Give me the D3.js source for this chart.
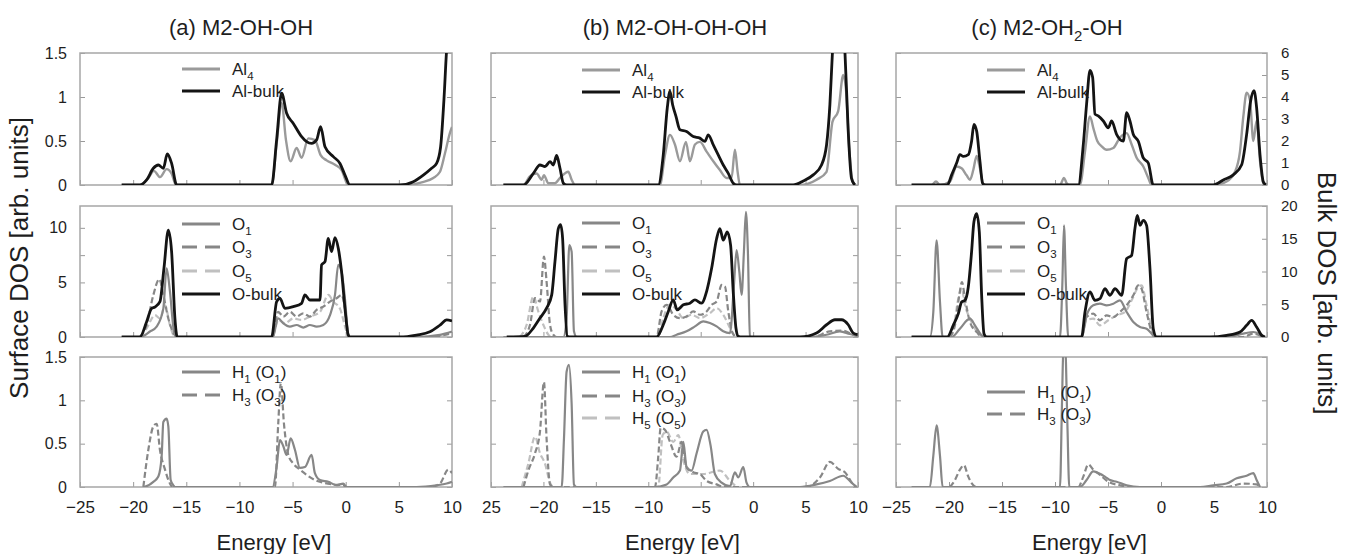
<!DOCTYPE html>
<html>
<head>
<meta charset="utf-8">
<script src="https://cdn.jsdelivr.net/npm/d3@7"></script>
<style>
  body { margin: 0; background: #fff; }
  svg text { font-family: "Liberation Sans", Arial, Helvetica, sans-serif; fill: #1e1e1e; }
</style>
</head>
<body>
<div id="chart"></div>
<script>
// ---- data: [energy eV, DOS] ----
// surface curves use the left axis, bulk curves the right (Bulk DOS) axis

// (a) M2-OH-OH
var a_Al4 = [[-21.08,0],[-19.36,0],[-18.57,0.08],[-18.04,0.16],[-17.47,0.09],[-16.85,0.18],[-16.38,0.13],[-15.97,0],[-6.97,0],[-6.5,0.47],[-6.03,0.93],[-5.62,0.51],[-5.18,0.27],[-4.62,0.42],[-4.15,0.31],[-3.52,0.53],[-2.89,0.51],[-2.36,0.34],[-1.8,0.28],[-1.01,0.23],[-0.39,0.17],[0.24,0],[6.04,0],[7.14,0.03],[8.24,0.08],[8.87,0.15],[9.34,0.36],[9.8,0.59],[10,0.66]];
var a_AlBulk = [[-21.08,0],[-19.36,0],[-18.73,0.23],[-18.1,0.76],[-17.63,0.91],[-17.16,0.76],[-16.79,1.41],[-16.38,0.98],[-15.9,0],[-6.97,0],[-6.5,2.05],[-6.03,4.17],[-5.56,3.26],[-4.93,2.8],[-4.15,2.2],[-3.68,1.97],[-3.21,1.89],[-2.74,2.05],[-2.36,2.65],[-1.95,1.74],[-1.17,1.29],[-0.54,0.98],[-0.07,0.45],[0.4,0],[5.1,0],[6.36,0.15],[7.3,0.45],[8.08,0.76],[8.55,0.98],[8.93,1.74],[9.24,3.86],[9.5,6.2],[10,8]];
var a_O1 = [[-21.08,0],[-19.36,0],[-18.42,0.5],[-17.79,0.95],[-17.16,2.6],[-16.85,6.3],[-16.54,4.2],[-16.16,0.5],[-15.9,0],[-6.88,0],[-6.35,1.7],[-5.87,1.25],[-5.25,0.95],[-4.62,1.1],[-3.99,0.86],[-3.37,1.1],[-2.74,0.95],[-2.11,1.1],[-1.48,2.0],[-1.01,3.85],[-0.7,6.6],[-0.39,6.0],[-0.07,3.5],[0.24,0.2],[0.4,0],[6.67,0],[8.87,0.2],[10,0.5]];
var a_O3 = [[-19.36,0],[-18.73,1.1],[-18.1,3.85],[-17.54,5.3],[-17.16,3.85],[-16.69,1.7],[-16.2,0.34],[-15.9,0],[-6.88,0],[-6.35,2.3],[-5.87,1.87],[-5.25,2.3],[-4.62,1.87],[-3.99,2.17],[-3.37,1.87],[-2.74,2.48],[-2.11,2.78],[-1.48,3.24],[-0.86,3.55],[-0.39,3.85],[-0.07,2.6],[0.24,0.2],[0.4,0],[7.6,0],[10,0.34]];
var a_O5 = [[-19.36,0],[-18.73,0.8],[-17.95,2.0],[-17.48,1.7],[-17.0,2.9],[-16.54,1.1],[-16.07,0],[-6.88,0],[-6.35,1.56],[-5.72,1.25],[-4.93,1.7],[-4.15,1.56],[-3.37,1.87],[-2.42,2.3],[-1.64,3.85],[-1.17,3.24],[-0.54,2.6],[0.08,0.5],[0.33,0]];
var a_OBulk = [[-21.08,0],[-19.36,0],[-18.73,2.34],[-18.26,4.38],[-17.95,4.58],[-17.48,5.39],[-17.1,10.5],[-16.69,16.3],[-16.38,13.0],[-16.07,2.85],[-15.85,0],[-6.97,0],[-6.5,5.4],[-6.19,5.9],[-5.72,4.38],[-4.93,4.63],[-4.15,5.14],[-3.84,6.41],[-3.37,5.65],[-2.42,5.65],[-2.27,11.0],[-1.95,11.5],[-1.64,15.06],[-1.33,13.03],[-1.01,15.17],[-0.7,13.54],[-0.39,9.97],[-0.07,4.38],[0.24,0.3],[0.4,0],[5.1,0],[6.67,0.3],[7.92,0.8],[8.87,1.83],[9.5,2.6],[10,2.44]];
var a_H1 = [[-19.04,0],[-18.73,0.01],[-18.1,0.06],[-17.63,0.12],[-17.32,0.35],[-17.16,0.75],[-16.85,0.79],[-16.69,0.7],[-16.47,0.08],[-16.22,0.02],[-16.07,0],[-6.88,0],[-6.5,0.23],[-6.19,0.54],[-5.87,0.47],[-5.56,0.37],[-5.18,0.56],[-4.78,0.43],[-4.31,0.22],[-3.84,0.23],[-3.21,0.37],[-2.9,0.16],[-2.42,0.08],[-1.64,0.06],[-0.86,0.02],[-0.23,0.04],[0.08,0],[6.67,0],[8.55,0.02],[9.5,0.04],[10,0.06]];
var a_H3 = [[-19.04,0],[-18.57,0.43],[-18.1,0.7],[-17.79,0.73],[-17.48,0.43],[-17.0,0.2],[-16.54,0.04],[-16.29,0],[-6.66,0],[-6.35,0.73],[-6.1,1.2],[-5.81,0.73],[-5.4,0.37],[-4.93,0.27],[-4.31,0.2],[-3.68,0.14],[-2.9,0.08],[-2.11,0.05],[-1.17,0.03],[-0.23,0.02],[0.08,0],[7.92,0],[8.87,0.04],[9.65,0.2],[10,0.16]];

// (b) M2-OH-OH-OH
var b_Al4 = [[-23.82,0],[-21.9,0],[-21.28,0.1],[-20.65,0.13],[-20.17,0.06],[-19.95,0.11],[-19.53,0.02],[-18.9,0.02],[-18.42,0.08],[-17.63,0.15],[-17.31,0.06],[-16.99,0],[-8.89,0],[-8.41,0.34],[-7.93,0.57],[-7.46,0.46],[-6.98,0.27],[-6.41,0.49],[-6.03,0.27],[-5.55,0.46],[-5.08,0.49],[-4.44,0.38],[-3.8,0.27],[-3.17,0.17],[-2.53,0.08],[-2.06,0.08],[-1.74,0.4],[-1.48,0.15],[-1.26,0],[4.46,0],[6.05,0.06],[7.0,0.15],[7.57,0.72],[8.11,0.84],[8.59,1.25],[8.84,1.1],[9.16,0.42],[9.54,0.02],[9.8,0]];
var b_AlBulk = [[-23.82,0],[-21.9,0],[-20.96,0.53],[-20.33,0.91],[-19.85,0.84],[-19.37,1.06],[-19.06,0.91],[-18.74,1.34],[-18.42,0.76],[-18.1,0.08],[-17.79,0],[-9.05,0],[-8.57,1.37],[-8.19,3.5],[-7.93,4.26],[-7.68,3.65],[-7.36,3.12],[-6.98,2.51],[-6.35,2.43],[-5.71,2.2],[-5.08,2.13],[-4.6,1.98],[-4.28,2.28],[-3.8,1.82],[-3.33,1.37],[-2.85,0.91],[-2.37,0.53],[-1.9,0.08],[-1.58,0],[3.82,0],[4.78,0.18],[5.73,0.46],[6.52,0.91],[7.0,1.82],[7.32,3.65],[7.57,6.1],[8.1,9],[8.75,6.1],[9.07,2.43],[9.38,0.3],[9.7,0]];
var b_O1 = [[-23.82,0],[-18.1,0],[-17.79,1.73],[-17.53,8.42],[-17.31,7.81],[-17.09,0.52],[-16.83,0],[-7.93,0],[-7.3,0.21],[-6.35,0.52],[-5.55,0.97],[-4.76,1.43],[-4.12,1.28],[-3.48,0.97],[-2.85,0.52],[-2.21,0.36],[-1.83,4.77],[-1.58,7.96],[-1.32,5.99],[-1.1,3.86],[-0.88,7.81],[-0.69,11.46],[-0.5,7.81],[-0.31,0.06],[-0.15,0],[5.09,0],[7.0,0.21],[8.27,0.52],[9.22,0.27],[9.96,0.1]];
var b_O3 = [[-21.9,0],[-21.28,1.12],[-20.8,3.56],[-20.33,3.25],[-19.95,7.36],[-19.7,5.08],[-19.37,1.12],[-19.06,0.21],[-18.74,0],[-9.21,0],[-8.73,2.34],[-8.25,2.95],[-7.62,2.04],[-6.98,1.73],[-6.35,1.88],[-5.71,2.34],[-5.08,2.04],[-4.44,2.34],[-3.96,2.95],[-3.48,3.25],[-3.01,4.77],[-2.69,4.62],[-2.37,2.34],[-1.96,0.36],[-1.58,0],[5.73,0],[7.32,0.52],[8.59,0.58],[9.54,0.21],[9.96,0.1]];
var b_O5 = [[-22.23,0],[-21.6,1.12],[-20.96,3.71],[-20.49,2.34],[-20.01,1.12],[-19.53,0.21],[-19.21,0],[-9.05,0],[-8.57,1.73],[-7.93,2.95],[-7.3,2.49],[-6.66,1.73],[-5.87,2.04],[-5.08,1.73],[-4.12,2.19],[-3.48,2.64],[-2.85,2.04],[-2.21,0.82],[-1.74,0]];
var b_OBulk = [[-23.5,0],[-21.76,0.1],[-20.96,1.37],[-20.33,2.89],[-19.7,4.4],[-19.21,6.43],[-18.9,11.5],[-18.58,16.56],[-18.36,17.16],[-18.17,15.04],[-17.94,4.91],[-17.72,0.1],[-17.47,0],[-9.21,0],[-8.57,1.87],[-8.09,3.9],[-7.62,5.67],[-7.24,4.15],[-6.66,4.91],[-6.03,5.16],[-5.55,5.67],[-4.92,5.16],[-4.44,6.94],[-3.96,10.48],[-3.48,15.04],[-3.17,16.56],[-2.85,14.78],[-2.47,16.05],[-2.15,14.03],[-1.9,6.94],[-1.64,1.37],[-1.42,0.1],[-1.1,0],[4.46,0],[6.05,0.61],[7.0,1.87],[7.8,2.63],[8.43,2.63],[9.07,1.87],[9.54,0.61],[9.96,0.35]];
var b_H1 = [[-23.82,0],[-18.26,0],[-18.04,0.56],[-17.79,1.33],[-17.56,1.41],[-17.31,0.96],[-17.09,0.03],[-16.83,0],[-9.52,0],[-8.25,0.03],[-7.62,0.11],[-6.98,0.19],[-6.66,0.52],[-6.35,0.23],[-5.87,0.19],[-5.39,0.39],[-4.76,0.64],[-4.44,0.66],[-4.06,0.48],[-3.65,0.15],[-3.01,0.05],[-2.21,0.01],[-1.74,0.17],[-1.42,0.11],[-0.94,0.23],[-0.63,0.05],[-0.31,0],[4.46,0],[6.05,0.03],[7.32,0.07],[8.59,0.13],[9.38,0.05],[9.86,0]];
var b_H3 = [[-21.9,0],[-21.44,0.19],[-20.8,0.39],[-20.33,0.64],[-19.95,1.21],[-19.7,0.56],[-19.37,0.03],[-19.06,0],[-9.36,0],[-9.05,0.35],[-8.82,0.68],[-8.41,0.66],[-7.93,0.52],[-7.3,0.35],[-6.82,0.52],[-6.35,0.23],[-5.71,0.17],[-5.08,0.15],[-4.44,0.07],[-3.48,0.03],[-2.85,0],[5.09,0],[6.37,0.11],[7.32,0.29],[8.11,0.21],[8.75,0.17],[9.54,0.03],[9.86,0]];
var b_H5 = [[-22.07,0],[-21.44,0.27],[-20.8,0.58],[-20.33,0.39],[-19.85,0.27],[-19.37,0.05],[-19.06,0],[-9.05,0],[-8.63,0.6],[-8.25,0.64],[-7.62,0.52],[-7.14,0.6],[-6.66,0.31],[-6.03,0.15],[-4.76,0.15],[-3.17,0.19],[-2.21,0.07],[-1.58,0]];

// (c) M2-OH2-OH
var c_Al4 = [[-23.53,0],[-21.64,0],[-21.23,0.04],[-20.85,0],[-19.91,0.04],[-19.28,0.21],[-18.81,0.19],[-18.34,0.11],[-18.02,0.06],[-17.71,0.17],[-17.39,0.33],[-17.08,0.19],[-16.76,0.01],[-16.45,0],[-9.53,0],[-9.15,0.08],[-8.9,0.02],[-8.65,0],[-7.65,0],[-7.17,0.38],[-6.7,0.78],[-6.39,0.65],[-6.01,0.5],[-5.6,0.44],[-5.13,0.4],[-4.5,0.42],[-3.87,0.54],[-3.24,0.59],[-2.77,0.46],[-2.3,0.31],[-1.67,0.21],[-1.2,0.08],[-0.88,0],[4.93,0],[6.19,0.04],[6.98,0.15],[7.45,0.38],[7.76,0.77],[8.08,1.05],[8.4,0.96],[8.71,0.5],[9.02,0.73],[9.34,0.27],[9.65,0.02],[9.81,0]];
var c_AlBulk = [[-23.53,0],[-20.16,0],[-19.75,0.46],[-19.28,1.0],[-18.97,1.38],[-18.65,1.3],[-18.18,1.38],[-17.87,1.99],[-17.65,2.76],[-17.39,2.45],[-17.08,1.07],[-16.83,0.08],[-16.61,0],[-7.8,0],[-7.33,1.84],[-7.02,3.68],[-6.7,5.21],[-6.45,4.9],[-6.23,3.22],[-5.92,3.14],[-5.44,2.91],[-4.97,2.6],[-4.66,2.91],[-4.19,2.3],[-3.56,1.99],[-3.24,3.29],[-2.93,2.91],[-2.61,2.3],[-2.14,1.99],[-1.67,1.23],[-1.2,1.0],[-0.73,0],[4.93,0],[5.88,0.23],[6.82,0.46],[7.61,0.92],[8.08,2.3],[8.46,3.83],[8.77,4.29],[9.02,3.52],[9.34,1.38],[9.65,0.15],[9.9,0]];
var c_O1 = [[-23.53,0],[-21.8,0],[-21.48,2.29],[-21.17,8.86],[-20.85,3.21],[-20.6,0],[-19.75,0],[-18.97,0.76],[-18.02,1.68],[-17.55,1.07],[-16.92,0.15],[-16.61,0],[-9.53,0],[-9.31,4.73],[-9.15,10.23],[-8.97,4.73],[-8.75,0],[-7.49,0],[-7.02,1.98],[-6.39,2.9],[-5.76,3.05],[-5.13,2.9],[-4.5,3.05],[-3.87,3.36],[-3.24,2.29],[-2.61,1.37],[-1.98,0.92],[-1.36,0.76],[-0.88,0.31],[-0.57,0],[6.19,0],[7.76,0.31],[8.71,0.46],[9.5,0.15],[9.81,0]];
var c_O3 = [[-19.91,0],[-19.44,1.07],[-19.03,3.82],[-18.78,5.04],[-18.49,3.51],[-18.02,1.37],[-17.39,0.46],[-16.76,0],[-7.49,0],[-7.02,1.83],[-6.39,2.14],[-5.76,1.53],[-5.13,1.98],[-4.5,1.83],[-3.87,2.29],[-3.24,2.9],[-2.61,3.82],[-2.14,4.73],[-1.83,4.43],[-1.36,2.29],[-0.88,0.46],[-0.57,0],[7.76,0],[8.71,0.31],[9.65,0]];
var c_O5 = [[-20.07,0],[-19.6,0.76],[-19.12,3.51],[-18.81,4.43],[-18.49,2.9],[-18.02,1.68],[-17.55,0.76],[-16.92,0],[-7.49,0],[-7.02,1.53],[-6.39,1.68],[-5.76,1.07],[-4.97,1.53],[-4.19,1.98],[-3.4,2.29],[-2.77,3.36],[-2.14,4.58],[-1.83,4.73],[-1.36,2.9],[-0.88,0.76],[-0.57,0]];
var c_OBulk = [[-23.53,0],[-20.16,0],[-19.6,1.78],[-19.12,3.56],[-18.81,5.34],[-18.49,5.6],[-18.18,7.63],[-17.87,12.98],[-17.65,17.56],[-17.39,18.83],[-17.14,16.03],[-16.92,6.36],[-16.7,0.51],[-16.45,0],[-7.49,0],[-7.17,3.82],[-6.7,6.87],[-6.23,5.6],[-5.76,5.85],[-5.29,7.38],[-4.81,6.36],[-4.34,7.38],[-3.71,6.36],[-3.24,11.96],[-2.77,12.47],[-2.46,16.54],[-2.24,18.58],[-1.98,17.05],[-1.67,17.81],[-1.36,17.05],[-1.04,10.43],[-0.73,1.27],[-0.41,0],[4.62,0],[6.19,0.25],[7.45,0.76],[8.08,1.78],[8.55,2.54],[9.02,1.53],[9.5,0.25],[9.81,0]];
var c_H1 = [[-23.53,0],[-21.8,0],[-21.48,0.36],[-21.17,0.71],[-20.85,0.36],[-20.6,0],[-9.53,0],[-9.34,0.97],[-9.22,1.55],[-9.03,1.6],[-8.84,0.77],[-8.65,0],[-7.65,0],[-7.02,0.08],[-6.39,0.18],[-5.92,0.16],[-5.29,0.12],[-4.81,0.08],[-4.19,0.06],[-3.24,0.02],[-1.98,0],[3.68,0],[4.93,0.02],[6.19,0.04],[7.14,0.1],[8.08,0.13],[8.71,0.16],[9.02,0.08],[9.34,0]];
var c_H3 = [[-19.91,0],[-19.44,0.08],[-18.97,0.2],[-18.59,0.25],[-18.18,0.12],[-17.71,0.02],[-17.39,0],[-7.8,0],[-7.33,0.12],[-6.86,0.26],[-6.39,0.2],[-5.76,0.14],[-4.97,0.06],[-3.87,0.02],[-2.93,0],[6.19,0],[7.76,0.04],[9.02,0.03],[9.34,0]];

var titles = [
  [["(a) M2-OH-OH", 0]],
  [["(b) M2-OH-OH-OH", 0]],
  [["(c) M2-OH", 0], ["2", 1], ["-OH", 0]]
];
var energyTicks = [-25, -20, -15, -10, -5, 0, 5, 10];
var surfTicks = [[0, 0.5, 1, 1.5], [0, 2.5, 5, 7.5, 10], [0, 0.5, 1, 1.5]];
var surfLabels = [[0, 0.5, 1, 1.5], [0, 5, 10], [0, 0.5, 1, 1.5]];
var bulkTicks = [[0, 1, 2, 3, 4, 5, 6], [0, 5, 10, 15, 20]];

// ---- layout ----
var svgWidth = 1355;
var svgHeight = 554;

var colLeft = [80, 491, 896];
var colRight = [452, 858, 1267];
var titleX = [241, 675, 1047];
var legendX = [182, 582, 987];

var rowTop = [53, 206, 357];
var rowBottom = [185, 337, 487];
var rowMax = [1.5, 12, 1.5];
var bulkMax = [6, 20, 1];

var styles = {
  al4:  { color: "#9a9a9a", width: 2.4, dash: null, ldash: null },
  bulk: { color: "#141414", width: 2.8, dash: null, ldash: null },
  o1:   { color: "#878787", width: 2.2, dash: null, ldash: null },
  o3:   { color: "#878787", width: 2.2, dash: "6,3", ldash: "15,8" },
  o5:   { color: "#c0c0c0", width: 2.2, dash: "6,3", ldash: "15,8" }
};

function sub(a, b) { return [[a, 0], [b, 1]]; }
function hl(h, o) { return [["H", 0], [h, 1], [" (O", 0], [o, 1], [")", 0]]; }

var panels = [
  [
    { curves: [[a_Al4, "al4", 0], [a_AlBulk, "bulk", 1]],
      legend: [[sub("Al", "4"), "al4"], [[["Al-bulk", 0]], "bulk"]], legendY: [69, 91] },
    { curves: [[a_O5, "o5", 0], [a_O3, "o3", 0], [a_O1, "o1", 0], [a_OBulk, "bulk", 1]],
      legend: [[sub("O", "1"), "o1"], [sub("O", "3"), "o3"], [sub("O", "5"), "o5"], [[["O-bulk", 0]], "bulk"]], legendY: [224, 247, 271, 294] },
    { curves: [[a_H3, "o3", 0], [a_H1, "o1", 0]],
      legend: [[hl("1", "1"), "o1"], [hl("3", "3"), "o3"]], legendY: [372, 395] }
  ],
  [
    { curves: [[b_Al4, "al4", 0], [b_AlBulk, "bulk", 1]],
      legend: [[sub("Al", "4"), "al4"], [[["Al-bulk", 0]], "bulk"]], legendY: [70, 92] },
    { curves: [[b_O5, "o5", 0], [b_O3, "o3", 0], [b_O1, "o1", 0], [b_OBulk, "bulk", 1]],
      legend: [[sub("O", "1"), "o1"], [sub("O", "3"), "o3"], [sub("O", "5"), "o5"], [[["O-bulk", 0]], "bulk"]], legendY: [223, 247, 271, 294] },
    { curves: [[b_H5, "o5", 0], [b_H3, "o3", 0], [b_H1, "o1", 0]],
      legend: [[hl("1", "1"), "o1"], [hl("3", "3"), "o3"], [hl("5", "5"), "o5"]], legendY: [372, 396, 418] }
  ],
  [
    { curves: [[c_Al4, "al4", 0], [c_AlBulk, "bulk", 1]],
      legend: [[sub("Al", "4"), "al4"], [[["Al-bulk", 0]], "bulk"]], legendY: [70, 92] },
    { curves: [[c_O5, "o5", 0], [c_O3, "o3", 0], [c_O1, "o1", 0], [c_OBulk, "bulk", 1]],
      legend: [[sub("O", "1"), "o1"], [sub("O", "3"), "o3"], [sub("O", "5"), "o5"], [[["O-bulk", 0]], "bulk"]], legendY: [223, 247, 271, 294] },
    { curves: [[c_H3, "o3", 0], [c_H1, "o1", 0]],
      legend: [[hl("1", "1"), "o1"], [hl("3", "3"), "o3"]], legendY: [392, 414] }
  ]
];

var svg = d3.select("#chart")
  .append("svg")
  .attr("width", svgWidth)
  .attr("height", svgHeight);

// text with subscripts: parts are [string, isSub]
function richText(sel, parts, size) {
  var shift = size * 0.28;
  parts.forEach(function(p, i) {
    var prevSub = i > 0 && parts[i - 1][1];
    var dy = 0;
    if (p[1] && !prevSub) dy = shift;
    if (!p[1] && prevSub) dy = -shift;
    var ts = sel.append("tspan").attr("dy", dy).text(p[0]);
    if (p[1]) ts.style("font-size", (size * 0.68) + "px");
  });
}

panels.forEach(function(col, c) {
  var x = d3.scaleLinear().domain([-25, 10]).range([colLeft[c], colRight[c]]);

  // column title
  var t = svg.append("text")
    .attr("x", titleX[c])
    .attr("y", 35)
    .attr("text-anchor", "middle")
    .style("font-size", "22px");
  richText(t, titles[c], 22);

  col.forEach(function(panel, r) {
    var y = d3.scaleLinear().domain([0, rowMax[r]]).range([rowBottom[r], rowTop[r]]);
    var yBulk = d3.scaleLinear().domain([0, bulkMax[r]]).range([rowBottom[r], rowTop[r]]);
    var w = colRight[c] - colLeft[c];
    var h = rowBottom[r] - rowTop[r];

    var clipId = "clip-" + c + "-" + r;
    svg.append("clipPath").attr("id", clipId)
      .append("rect")
      .attr("x", colLeft[c]).attr("y", rowTop[r])
      .attr("width", w).attr("height", h);

    // x ticks (inward), labels only on bottom row
    var bottomAxis = d3.axisBottom(x)
      .tickValues(energyTicks)
      .tickSizeInner(-5)
      .tickSizeOuter(0)
      .tickPadding(14)
      .tickFormat(function(d) {
        if (r !== 2) return "";
        if (c === 1 && d === -25) return "25";
        return d < 0 ? "\u2212" + Math.abs(d) : d;
      });
    var xg = svg.append("g")
      .attr("transform", `translate(0, ${rowBottom[r]})`)
      .call(bottomAxis);
    xg.select(".domain").remove();
    xg.selectAll("line").attr("stroke", "#9a9a9a");
    xg.selectAll("text").style("font-size", "17px").style("fill", "#1e1e1e").attr("font-family", null);

    // left ticks (labels only in first column)
    var leftAxis = d3.axisLeft(y)
      .tickValues(surfTicks[r])
      .tickSizeInner(-5)
      .tickSizeOuter(0)
      .tickPadding(13)
      .tickFormat(function(d) {
        return (c === 0 && surfLabels[r].indexOf(d) >= 0) ? d : "";
      });
    var yg = svg.append("g")
      .attr("transform", `translate(${colLeft[c]}, 0)`)
      .call(leftAxis);
    yg.select(".domain").remove();
    yg.selectAll("line").attr("stroke", "#9a9a9a");
    yg.selectAll("text").style("font-size", "16px").style("fill", "#1e1e1e").attr("font-family", null);

    // right ticks; bulk scale labelled on the last column
    var rightAxis;
    if (c === 2 && r < 2) {
      rightAxis = d3.axisRight(yBulk).tickValues(bulkTicks[r]).tickFormat(d => d);
    } else {
      rightAxis = d3.axisRight(y).tickValues(surfTicks[r]).tickFormat("");
    }
    rightAxis.tickSizeInner(-5).tickSizeOuter(0).tickPadding(14);
    var rg = svg.append("g")
      .attr("transform", `translate(${colRight[c]}, 0)`)
      .call(rightAxis);
    rg.select(".domain").remove();
    rg.selectAll("line").attr("stroke", "#9a9a9a");
    rg.selectAll("text").style("font-size", "15px").style("fill", "#1e1e1e").attr("font-family", null);

    // frame
    svg.append("rect")
      .attr("x", colLeft[c]).attr("y", rowTop[r])
      .attr("width", w).attr("height", h)
      .attr("fill", "none")
      .attr("stroke", "#a6a6a6")
      .attr("stroke-width", 1.5);

    // curves
    var g = svg.append("g").attr("clip-path", `url(#${clipId})`);
    panel.curves.forEach(function(cv) {
      var sc = cv[2] ? yBulk : y;
      var st = styles[cv[1]];
      var line = d3.line()
        .curve(d3.curveMonotoneX)
        .x(d => x(d[0]))
        .y(d => sc(d[1]));
      g.append("path")
        .datum(cv[0])
        .attr("d", line)
        .attr("fill", "none")
        .attr("stroke", st.color)
        .attr("stroke-width", st.width)
        .attr("stroke-linejoin", "round")
        .attr("stroke-dasharray", st.dash);
    });

    // legend
    panel.legend.forEach(function(item, i) {
      var st = styles[item[1]];
      var ly = panel.legendY[i];
      svg.append("line")
        .attr("x1", legendX[c]).attr("x2", legendX[c] + 38)
        .attr("y1", ly).attr("y2", ly)
        .attr("stroke", st.color)
        .attr("stroke-width", item[1] === "bulk" ? 3.2 : 2.8)
        .attr("stroke-dasharray", st.ldash);
      var lt = svg.append("text")
        .attr("x", legendX[c] + 50)
        .attr("y", ly + 6)
        .style("font-size", "17px");
      richText(lt, item[0], 17);
    });
  });

  // x axis title
  svg.append("text")
    .attr("x", (colLeft[c] + colRight[c]) / 2 + 8)
    .attr("y", 550)
    .attr("text-anchor", "middle")
    .style("font-size", "22px")
    .text("Energy [eV]");
});

// axis titles
svg.append("text")
  .attr("transform", "translate(28, 258) rotate(-90)")
  .attr("text-anchor", "middle")
  .style("font-size", "26px")
  .text("Surface DOS [arb. units]");

svg.append("text")
  .attr("transform", "translate(1318, 293) rotate(90)")
  .attr("text-anchor", "middle")
  .style("font-size", "26px")
  .text("Bulk DOS [arb. units]");
</script>
</body>
</html>
